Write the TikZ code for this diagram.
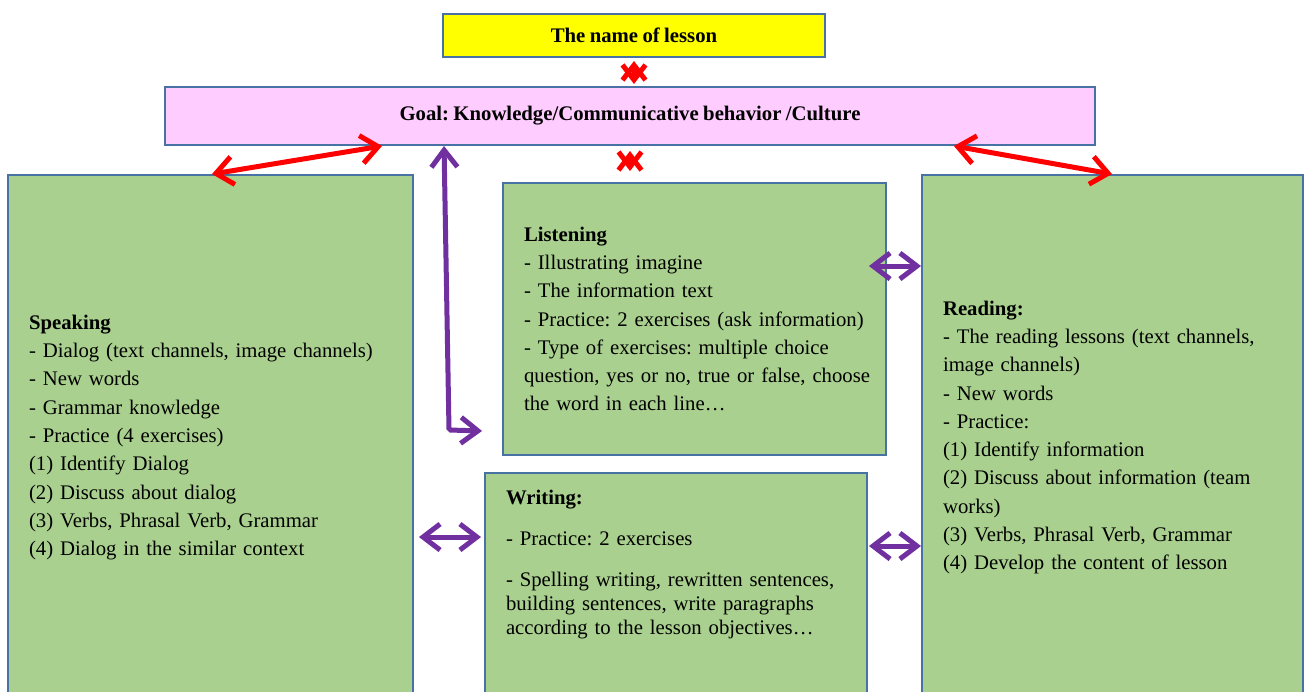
\documentclass[tikz,border=0pt]{standalone}
\usepackage{fontspec}
\setmainfont{Liberation Serif}[WordSpace=0.85]
\usepackage{xcolor}
\usepackage{tikz}
\usetikzlibrary{arrows.meta,shapes}

\begin{document}
\begin{tikzpicture}[x=0.02cm,y=-0.02cm]
    \definecolor{myyellow}{RGB}{255,255,0}
    \definecolor{mypink}{RGB}{255,204,255}
    \definecolor{mygreen}{RGB}{169,208,142}
    \definecolor{myframe}{RGB}{72,114,164}
    \definecolor{myred}{RGB}{255,0,0}
    \definecolor{mypurple}{RGB}{112,48,160}

    \useasboundingbox (0,0) rectangle (1306,691);
    \clip (0,0) rectangle (1306,691);

    \fontsize{11.8pt}{16.1pt}\selectfont\frenchspacing  % 字体大小
    \tikzstyle{title}=[rectangle,draw=myframe,line width=0.04cm,font=\bfseries,inner sep=0pt]  % 标题块
    \tikzstyle{skill}=[rectangle,draw=myframe,line width=0.04cm,fill=mygreen,align=left,inner xsep=0.42cm,inner ysep=0pt]  % 四个技能块
    \tikzstyle{redarr}=[{Straight Barb[length=0.34cm,width=0.56cm]}-{Straight Barb[length=0.34cm,width=0.56cm]},line width=0.1cm,myred]
    \tikzstyle{redtick}=[{Straight Barb[length=0.3cm,width=0.46cm]}-{Straight Barb[length=0.3cm,width=0.46cm]},line width=0.1cm,myred]
    \tikzstyle{purarr}=[{Straight Barb[length=0.34cm,width=0.52cm]}-{Straight Barb[length=0.34cm,width=0.52cm]},line width=0.1cm,mypurple]

    % 标题
    \node[title,fill=myyellow,minimum width=7.64cm,minimum height=0.86cm](name) at (634,35.5){The name of lesson};
    \node[title,fill=mypink,minimum width=18.6cm,minimum height=1.16cm](goal) at (630,116){Goal: Knowledge/Communicative behavior /Culture};

    % 技能块
    \node[skill,text width=7.26cm,minimum height=10.5cm](speak) at (210.5,437.5){\textbf{Speaking}\\
        - Dialog (text channels, image channels)\\
        - New words\\
        - Grammar knowledge\\
        - Practice (4 exercises)\\
        (1) Identify Dialog\\
        (2) Discuss about dialog\\
        (3) Verbs, Phrasal Verb, Grammar\\
        (4) Dialog in the similar context};
    \node[skill,text width=6.82cm,minimum height=5.44cm](listen) at (694.5,319){\textbf{Listening}\\
        \mbox{- Illustrating imagine}\\
        \mbox{- The information text}\\
        \mbox{- Practice: 2 exercises (ask information)}\\
        \mbox{- Type of exercises: multiple choice}\\
        \mbox{question, yes or no, true or false, choose}\\
        \mbox{the word in each line…}};
    \node[skill,text width=6.78cm,minimum height=10.5cm](read) at (1112.5,437.5){\textbf{Reading:}\\
        - The reading lessons (text channels,\\
        image channels)\\
        - New words\\
        - Practice:\\
        (1) Identify information\\
        (2) Discuss about information (team\\
        works)\\
        (3) Verbs, Phrasal Verb, Grammar\\
        (4) Develop the content of lesson};
    \node[skill,text width=6.8cm,minimum height=4.54cm,font={\fontsize{11.8pt}{13.7pt}\selectfont}](write) at (676,586.5){\textbf{Writing:}\\[0.34cm]
        - Practice: 2 exercises\\[0.34cm]
        - Spelling writing, rewritten sentences,\\
        building sentences, write paragraphs\\
        according to the lesson objectives…\\[0.5cm]
        \mbox{}};

    % 红色箭头
    \draw[redarr]([xshift=4.1cm]speak.north west)--([xshift=4.36cm]goal.south west);
    \draw[redarr]([xshift=-2.84cm]goal.south east)--([xshift=3.82cm]read.north west);
    \draw[redtick,shorten <=0.06cm,shorten >=0.04cm](name.south)--(name.south |- goal.north);
    \draw[redtick,shorten <=0.1cm,shorten >=0.22cm](goal.south)--(goal.south |- listen.north);

    % 紫色箭头
    \coordinate(bend) at (449,430);
    \coordinate(lr) at ([xshift=-0.36cm,yshift=1.06cm]listen.east);
    \coordinate(wr) at ([xshift=0.02cm,yshift=0.81cm]write.east);
    \coordinate(sw) at ([yshift=0.99cm]write.west);
    \draw[purarr,rounded corners=1pt]([xshift=5.6cm]goal.south west)--(bend)--([xshift=-0.4cm,yshift=0.5cm]listen.south west);
    \draw[purarr,shorten <=0.1cm,shorten >=0.06cm](speak.east |- sw)--(sw);
    \draw[purarr](lr)--(lr -| read.west);
    \draw[purarr](wr)--(wr -| read.west);
\end{tikzpicture}
\end{document}
